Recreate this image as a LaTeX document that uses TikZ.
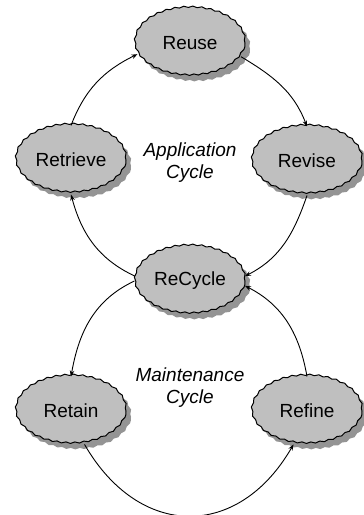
\documentclass[tikz,border=0pt]{standalone}
\usepackage{fontspec}
\setmainfont{Liberation Sans}
\usetikzlibrary{shapes.geometric,shadows,decorations.pathmorphing,arrows.meta}
\begin{document}
\begin{tikzpicture}[x=1pt,y=1pt,
  phase/.style={ellipse, draw=black, line width=1pt, fill=black!25,
    minimum width=110pt, minimum height=68pt, inner sep=0pt,
    decorate, decoration={snake, amplitude=0.7pt, segment length=9pt},
    drop shadow={shadow xshift=5pt, shadow yshift=-6pt, fill=black!42, opacity=1},
    font=\fontsize{19}{21}\selectfont},
  flow/.style={line width=0.9pt, -{Stealth[length=6pt,width=4.5pt]}},
  cyc/.style={align=center, font=\fontsize{19}{22}\selectfont\itshape}]
\useasboundingbox (0,0) rectangle (364,515);
\node[phase] (reuse) at (190,472) {Reuse};
\node[phase] (retrieve) at (71,355) {Retrieve};
\node[phase] (revise) at (307,354) {Revise};
\node[phase] (recycle) at (190,234) {ReCycle};
\node[phase] (retain) at (71,104) {Retain};
\node[phase] (refine) at (307,104) {Refine};
\node[cyc] (app) at (190,352) {Application\\Cycle};
\node[cyc] (mnt) at (190,127) {Maintenance\\Cycle};
\draw[flow] (retrieve.north) to[out=69,in=206] (reuse.192);
\draw[flow] (reuse.345) to[out=-31,in=111] (revise.north);
\draw[flow] (revise.south) to[out=-109,in=27] (recycle.5);
\draw[flow] (recycle.175) to[out=155,in=-75] (retrieve.south);
\draw[flow] (recycle.180) to[out=-155,in=80] (retain.north);
\draw[flow] (retain.-68) to[out=-60,in=-120,looseness=1.35] (refine.-112);
\draw[flow] (refine.north) to[out=100,in=-27] (recycle.355);
\end{tikzpicture}
\end{document}
